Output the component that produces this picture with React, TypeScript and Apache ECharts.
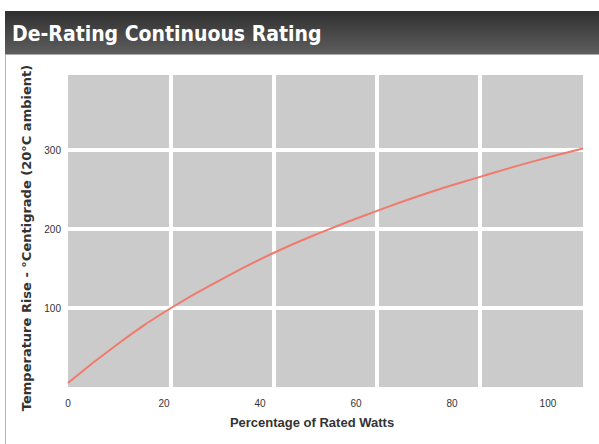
import React, { useEffect, useRef } from "react";
import * as echarts from "echarts";

const titleText = "De-Rating Continuous Rating";
const xTitle = "Percentage of Rated Watts";
const yTitle = "Temperature Rise - °Centigrade (20°C ambient)";
const percentWatts = [0, 10, 20, 30, 40, 50, 60, 70, 80, 90, 100];
const tempRise = [5, 56, 100, 137, 170, 198, 223, 246, 266, 285, 302];
const xTicks = [0, 20, 40, 60, 80, 100];
const yTicks = [100, 200, 300];

export default function App() {
  const ref = useRef<HTMLDivElement>(null);
  useEffect(() => {
    if (!ref.current) return;
    const chart = echarts.init(ref.current, undefined, { renderer: "svg" });
    chart.setOption({
      animation: false,
      backgroundColor: "#ffffff",
      grid: {
        left: 68,
        right: 16,
        top: 75,
        bottom: 57,
        show: true,
        backgroundColor: "#cbcbcb",
        borderWidth: 0,
      },
      xAxis: [
        {
          type: "value",
          min: 0,
          max: 100,
          interval: 20,
          axisLine: { show: false },
          axisTick: { show: false },
          axisLabel: { show: false },
          splitLine: {
            show: true,
            showMinLine: false,
            showMaxLine: false,
            lineStyle: { color: "#ffffff", width: 4 },
          },
        },
        {
          type: "value",
          position: "bottom",
          min: 0,
          max: 107.3,
          interval: 20,
          axisLine: { show: false },
          axisTick: { show: false },
          splitLine: { show: false },
          axisLabel: {
            show: true,
            margin: 11,
            color: "#333333",
            fontFamily: "Liberation Sans",
            fontSize: 10,
            formatter: (v: number) => (xTicks.includes(v) ? String(v) : ""),
          },
        },
      ],
      yAxis: {
        type: "value",
        min: 0,
        max: 395,
        interval: 100,
        axisLine: { show: false },
        axisTick: { show: false },
        axisLabel: {
          margin: 7,
          color: "#333333",
          fontFamily: "Liberation Sans",
          fontSize: 10,
          padding: [4, 0, 0, 0],
          formatter: (v: number) => (yTicks.includes(v) ? String(v) : ""),
        },
        splitLine: {
          show: true,
          showMinLine: false,
          showMaxLine: false,
          lineStyle: { color: "#ffffff", width: 4 },
        },
      },
      series: [
        {
          type: "line",
          xAxisIndex: 0,
          data: percentWatts.map((p, i) => [p, tempRise[i]]),
          smooth: true,
          showSymbol: false,
          lineStyle: { color: "#f07a6c", width: 2 },
        },
      ],
      graphic: [
        {
          type: "rect",
          shape: { x: 5, y: 11, width: 594, height: 43 },
          style: {
            fill: new echarts.graphic.LinearGradient(0, 0, 0, 1, [
              { offset: 0, color: "#2f2f2f" },
              { offset: 1, color: "#5e5e5e" },
            ]),
          },
        },
        {
          type: "line",
          shape: { x1: 5, y1: 54.5, x2: 599, y2: 54.5 },
          style: { stroke: "#a8a8a8", lineWidth: 1 },
        },
        {
          type: "line",
          shape: { x1: 5.5, y1: 55, x2: 5.5, y2: 444 },
          style: { stroke: "#b5b5b5", lineWidth: 1 },
        },
        {
          type: "text",
          x: 12,
          y: 34,
          style: {
            text: titleText,
            fill: "#ffffff",
            font: "bold 21px 'DejaVu Sans Condensed', 'DejaVu Sans'",
            textVerticalAlign: "middle",
          },
        },
        {
          type: "text",
          x: 312,
          y: 422,
          style: {
            text: xTitle,
            fill: "#333333",
            font: "bold 13px 'Liberation Sans', Arial",
            textAlign: "center",
            textVerticalAlign: "middle",
          },
        },
        {
          type: "text",
          x: 26,
          y: 238,
          rotation: Math.PI / 2,
          style: {
            text: yTitle,
            fill: "#333333",
            font: "bold 13px 'DejaVu Sans', sans-serif",
            textAlign: "center",
            textVerticalAlign: "middle",
          },
        },
      ],
    });
    return () => chart.dispose();
  }, []);
  return (
    <div
      ref={ref}
      style={{ position: "fixed", left: 0, top: 0, width: 599, height: 444 }}
    />
  );
}
